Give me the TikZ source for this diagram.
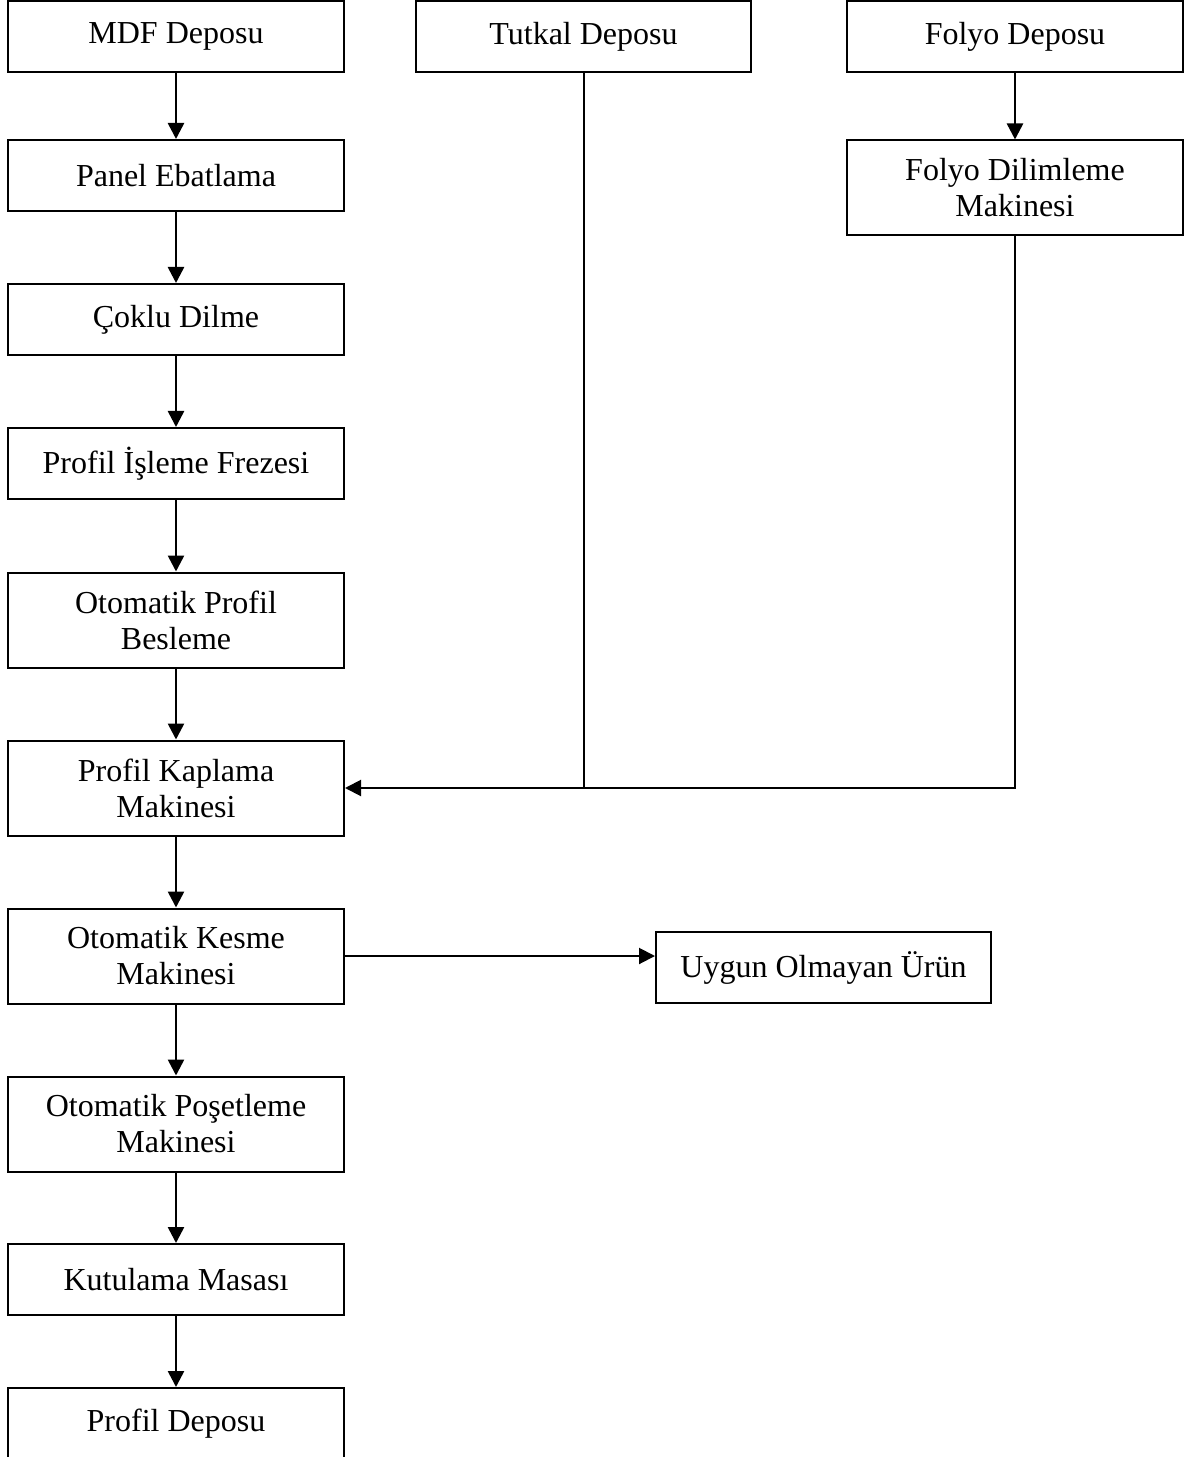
\documentclass[tikz,border=0pt]{standalone}
\usepackage{fontspec}
\setmainfont{Liberation Serif}
\usetikzlibrary{arrows.meta}
\begin{document}
\begin{tikzpicture}[x=0.5pt,y=-0.5pt,
  every node/.style={font=\fontsize{16}{18}\selectfont},
  box/.style={draw,line width=1pt,inner sep=0pt,align=center,
    minimum width=168pt,minimum height=35.5pt},
  tallbox/.style={box,minimum height=47.5pt},
  conn/.style={line width=1pt},
  arr/.style={conn,-{Triangle[length=8pt,width=8pt]}},
  flow/.style={arr,line width=1.3pt}]
\useasboundingbox (0,0) rectangle (1203,1459);
\clip (0,0) rectangle (1203,1456);

% main production line
\node[box]     (mdf)    at (176,36.5)   {MDF Deposu};
\node[box]     (panel)  at (176,175.5)  {Panel Ebatlama};
\node[box]     (coklu)  at (176,319.5)  {Çoklu Dilme};
\node[box]     (freze)  at (176,463.5)  {Profil İşleme Frezesi};
\node[tallbox] (besle)  at (176,620)    {Otomatik Profil\\Besleme};
\node[tallbox] (kapla)  at (176,788)    {Profil Kaplama\\Makinesi};
\node[tallbox] (kesme)  at (176,956)    {Otomatik Kesme\\Makinesi};
\node[tallbox] (poset)  at (176,1124)   {Otomatik Poşetleme\\Makinesi};
\node[box]     (kutu)   at (176,1279.5) {Kutulama Masası};
\node[box]     (pdepo)  at (176,1423.5) {Profil Deposu};

% supply lines
\node[box,minimum width=167.5pt] (tutkal) at (583.5,36.5) {Tutkal Deposu};
\node[box]     (folyo)  at (1015,36.5)  {Folyo Deposu};
\node[tallbox] (fdil)   at (1015,188)   {Folyo Dilimleme\\Makinesi};

% reject output
\node[box,minimum width=167.5pt] (uygun) at (823.5,967.5) {Uygun Olmayan Ürün};

% vertical flow
\draw[flow] (mdf)   -- (panel);
\draw[flow] (panel) -- (coklu);
\draw[flow] (coklu) -- (freze);
\draw[flow] (freze) -- (besle);
\draw[flow] (besle) -- (kapla);
\draw[flow] (kapla) -- (kesme);
\draw[flow] (kesme) -- (poset);
\draw[flow] (poset) -- (kutu);
\draw[flow] (kutu)  -- (pdepo);
\draw[flow] (folyo) -- (fdil);

% glue and foil feed into the coating machine
\coordinate (join) at (tutkal.south |- kapla.east);
\draw[conn] (tutkal.south) -- (join);
\draw[arr] (fdil.south) |- (kapla.east);

% rejected products
\draw[arr] (kesme.east) -- (kesme.east -| uygun.west);
\end{tikzpicture}
\end{document}
